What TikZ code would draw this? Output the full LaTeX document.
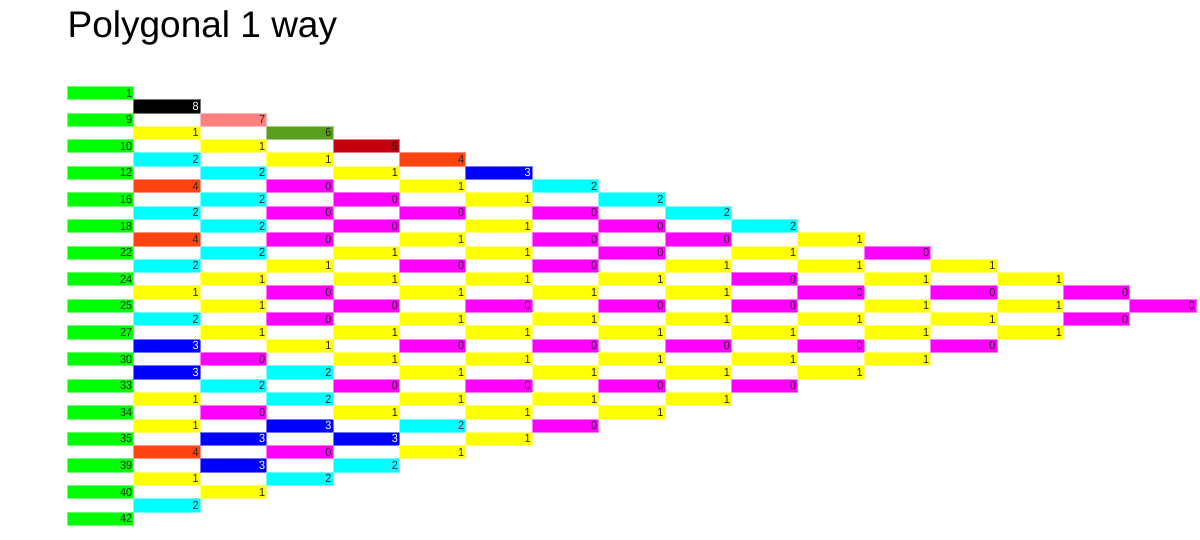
\documentclass[tikz,border=0pt]{standalone}
\usepackage{fontspec}
\setmainfont{Liberation Sans}
\newfontfamily\cellfont[FakeStretch=0.92]{Liberation Sans}
\definecolor{cg}{HTML}{00FF00}
\definecolor{c0}{HTML}{FF00FF}
\definecolor{c1}{HTML}{FFFF00}
\definecolor{c2}{HTML}{00FFFF}
\definecolor{c3}{HTML}{0000FF}
\definecolor{c4}{HTML}{FF4411}
\definecolor{c5}{HTML}{C4000F}
\definecolor{c6}{HTML}{5A9E1E}
\definecolor{c7}{HTML}{FF8080}
\definecolor{c8}{HTML}{000000}
\begin{document}
\begin{tikzpicture}[x=1pt,y=-1pt,
  cellbox/.style={rectangle, inner xsep=1.4pt, inner ysep=0pt, text width=63.6pt,
    align=right, minimum height=13.3pt, text height=8.4pt, text depth=0pt,
    anchor=north west, line width=0.5pt, font=\cellfont\fontsize{11.8}{13}\selectfont},
  titletext/.style={anchor=base west, inner sep=0pt, font=\fontsize{37}{44}\selectfont}]
\useasboundingbox (0,0) rectangle (1200,540);
\fill[white] (0,0) rectangle (1200,540);
\node[titletext] (title) at (67.5,37.5) {Polygonal 1 way};
\foreach \col/\vals in {
  0/{1,9,10,12,16,18,22,24,25,27,30,33,34,35,39,40,42},
  1/{8,1,2,4,2,4,2,1,2,3,3,1,1,4,1,2},
  2/{7,1,2,2,2,2,1,1,1,0,2,0,3,3,1},
  3/{6,1,0,0,0,1,0,0,1,2,2,3,0,2},
  4/{5,1,0,0,1,1,0,1,1,0,1,3,2},
  5/{4,1,0,1,0,1,1,0,1,1,2,1},
  6/{3,1,1,1,1,0,1,1,0,1,1},
  7/{2,0,0,0,1,1,0,1,1,0},
  8/{2,0,0,1,0,1,1,0,1},
  9/{2,0,1,1,1,0,1,1},
  10/{2,1,0,0,1,1,0},
  11/{1,1,0,1,0,1},
  12/{0,1,1,1,1},
  13/{1,0,1,0},
  14/{1,1,1},
  15/{0,0},
  16/{0}}{
  \foreach \v [count=\i from 0] in \vals {
    \pgfmathtruncatemacro{\lev}{\col+2*\i}
    \ifnum\col=0 \def\fc{cg}\else\edef\fc{c\v}\fi
    \def\tc{black!85}
    \ifnum\col>0 \ifnum\v=3 \def\tc{white}\fi\ifnum\v=8 \def\tc{white}\fi\fi
    \node[cellbox, fill=\fc, draw=\fc!55!white, text=\tc] (n-\col-\lev)
      at ({67+66.4*\col},{86+13.3*\lev}) {\v};
  }
}
\end{tikzpicture}
\end{document}
